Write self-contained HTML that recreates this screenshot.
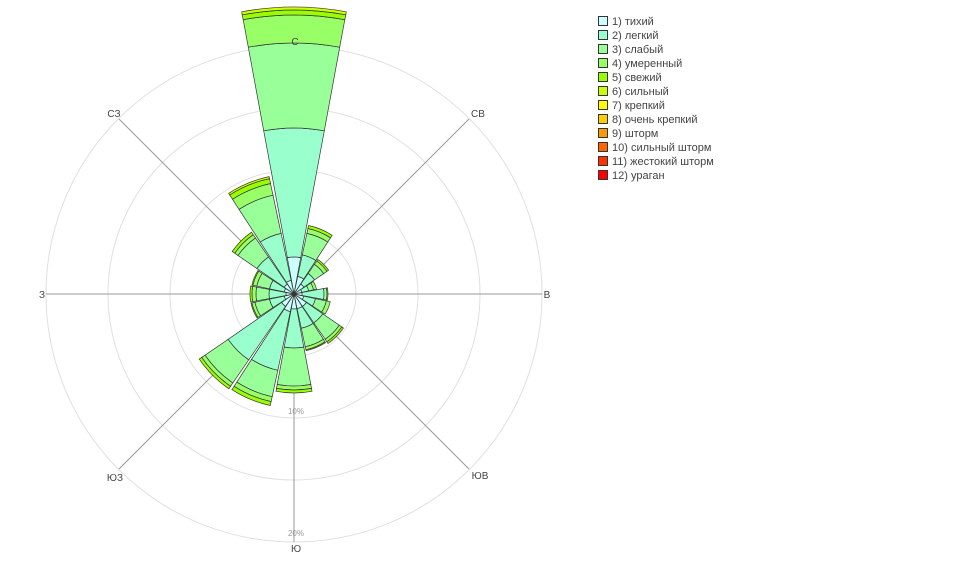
<!DOCTYPE html>
<html><head><meta charset="utf-8"><style>
body{margin:0;background:#fff;}
svg{display:block;font-family:"Liberation Sans","DejaVu Sans",sans-serif;}
</style></head><body>
<svg id="s" width="954" height="588" xmlns="http://www.w3.org/2000/svg">
<g fill="none" stroke="#e0e0e0" stroke-width="1">
<circle cx="294" cy="294" r="62"/><circle cx="294" cy="294" r="124"/><circle cx="294" cy="294" r="186"/><circle cx="294" cy="294" r="248"/>
</g>
<g stroke="#999" stroke-width="1">
<line x1="294" y1="294" x2="294" y2="46"/><line x1="294" y1="294" x2="469" y2="119"/>
<line x1="294" y1="294" x2="542" y2="294"/><line x1="294" y1="294" x2="469" y2="469"/>
<line x1="294" y1="294" x2="294" y2="542"/><line x1="294" y1="294" x2="119" y2="469"/>
<line x1="294" y1="294" x2="46" y2="294"/><line x1="294" y1="294" x2="119" y2="119"/>
</g>
<g id="bars"></g>
<g font-size="10" fill="#444" text-anchor="middle">
<text x="295" y="45">С</text><text x="478" y="117">СВ</text><text x="547" y="298">В</text>
<text x="480" y="479">ЮВ</text><text x="296" y="552">Ю</text><text x="115" y="481">ЮЗ</text>
<text x="42" y="298">З</text><text x="114" y="117">СЗ</text>
</g>
<g font-size="8" fill="#999" text-anchor="middle"><text x="296" y="414">10%</text><text x="296" y="536">20%</text></g>
<g id="leg" font-size="11" fill="#444"></g>
</svg>
<script>
var cols=["#ccffff","#99ffcc","#99ff99","#99ff66","#99ff00","#ccff00","#ffff00","#ffcc00","#ff9900","#ff6600","#ff3300","#ff0000"];
var names=["1) тихий","2) легкий","3) слабый","4) умеренный","5) свежий","6) сильный","7) крепкий","8) очень крепкий","9) шторм","10) сильный шторм","11) жестокий шторм","12) ураган"];
var d=[[37,166,251,279,284,287],[18,40,62,67,70],[12,25,36,40,42],[8,15,20,23],[8,30,33,34],[10,22,33,37],[15,35,55,58,60],[15,35,54,57,58],[15,54,92,96,99],[18,78,105,110,114],[15,80,108,112,115],[10,25,40,43,44],[8,25,38,42,44],[10,25,38,42,43],[12,45,68,72,75],[14,62,101,113,118,120]];
var cx=294,cy=294,h="";
function pt(r,a){return (cx+r*Math.sin(a)).toFixed(1)+","+(cy-r*Math.cos(a)).toFixed(1);}
for(var i=0;i<16;i++){var a=i*Math.PI/8,w=10.5*Math.PI/180,a1=a-w,a2=a+w,r0=0;
for(var j=0;j<d[i].length;j++){var r1=d[i][j];
h+='<path d="M'+pt(r0,a1)+' A'+r0+','+r0+' 0 0 1 '+pt(r0,a2)+' L'+pt(r1,a2)+' A'+r1+','+r1+' 0 0 0 '+pt(r1,a1)+' Z" fill="'+cols[j]+'" stroke="#333" stroke-width="0.7"/>';r0=r1;}}
document.getElementById("bars").innerHTML=h;
var l="";for(var k=0;k<12;k++){var y=16+k*14;
l+='<rect x="598.5" y="'+(y+0.5)+'" width="9" height="9" fill="'+cols[k]+'" stroke="#333" stroke-width="1"/><text x="612" y="'+(y+9)+'">'+names[k]+'</text>';}
document.getElementById("leg").innerHTML=l;
</script>
</body></html>
